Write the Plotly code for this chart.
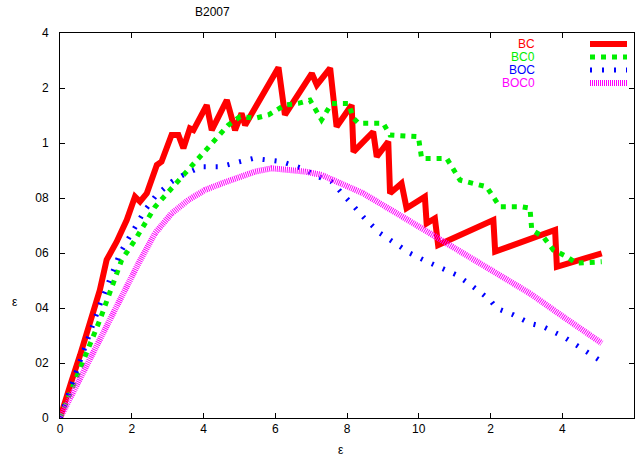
import plotly.graph_objects as go

# ---- data ----
red_x = [0, 1.4, 3.3, 5.6, 7.8, 9.8, 11.1, 13.0, 15.8, 18.6, 20.9, 22.3, 24.2, 27.0, 28.3, 31.1, 33.0,
         34.4, 36.2, 37.2, 40.9, 42.3, 46.5, 48.8, 50.6, 51.6, 60.9, 62.7, 70.2, 71.6, 75.3, 77.1,
         81.3, 81.8, 87.3, 88.3, 91.5, 92.0, 95.2, 96.6, 101.7, 102.2, 104.5, 105.4, 120.8, 121.3,
         138.0, 138.5, 151.0]
red_y = [0, 0.065, 0.138, 0.229, 0.32, 0.41, 0.465, 0.575, 0.641, 0.720, 0.805, 0.787, 0.817, 0.920,
         0.932, 1.029, 1.029, 0.981, 1.053, 1.047, 1.138, 1.047, 1.156, 1.047, 1.108, 1.065, 1.275,
         1.102, 1.253, 1.211, 1.272, 1.059, 1.138, 0.968, 1.041, 0.950, 1.005, 0.817, 0.853, 0.763,
         0.805, 0.708, 0.726, 0.629, 0.720, 0.605, 0.684, 0.550, 0.599]

green_x = [0, 5.6, 11.1, 17.2, 20.9, 26.5, 31.1, 36.7, 40.9, 46.9, 50.2, 54.4, 58.1, 62.7, 66.4, 69.7,
           72.9, 75.7, 80.4, 81.8, 83.2, 90.1, 92.0, 99.9, 100.8, 107.8, 111.5, 118.9, 122.6, 128.7,
           131.0, 131.5, 134.7, 137.5, 141.2, 144.0, 151.0]
green_y = [0, 0.175, 0.356, 0.575, 0.647, 0.768, 0.835, 0.914, 0.981, 1.065, 1.096, 1.090, 1.102,
           1.138, 1.144, 1.156, 1.084, 1.144, 1.144, 1.090, 1.072, 1.072, 1.029, 1.023, 0.944, 0.944,
           0.865, 0.841, 0.768, 0.768, 0.763, 0.684, 0.659, 0.611, 0.587, 0.563, 0.568]

blue_x = [0, 5.6, 11.1, 16.7, 20.0, 23.7, 26.5, 31.1, 34.4, 39.5, 44.6, 49.7, 53.9, 58.1, 61.8, 67.4,
          72.0, 75.7, 78.5, 81.3, 84.5, 89.2, 93.9, 97.6, 101.3, 105.9, 110.6, 115.2, 119.9, 121.7,
          126.4, 131.0, 134.7, 140.3, 144.9, 149.6, 151.0]
blue_y = [0, 0.211, 0.411, 0.599, 0.677, 0.756, 0.805, 0.859, 0.884, 0.914, 0.914, 0.932, 0.944,
          0.938, 0.932, 0.908, 0.877, 0.859, 0.817, 0.781, 0.732, 0.672, 0.629, 0.599, 0.575, 0.550,
          0.520, 0.477, 0.429, 0.399, 0.375, 0.344, 0.332, 0.296, 0.259, 0.217, 0.205]

magenta_x = [0, 5.6, 11.1, 16.7, 21.8, 26.5, 31.1, 35.8, 40.4, 45.1, 49.7, 54.4, 59.0, 63.6, 68.3,
             72.9, 77.6, 84.5, 93.9, 103.1, 112.4, 121.7, 131.0, 140.3, 151.0]
magenta_y = [0, 0.145, 0.284, 0.422, 0.560, 0.672, 0.744, 0.793, 0.829, 0.853, 0.877, 0.896, 0.908,
             0.904, 0.896, 0.884, 0.859, 0.817, 0.744, 0.672, 0.599, 0.526, 0.453, 0.368, 0.272]

series_names = ["BC", "BC0", "BOC", "BOC0"]
x_tickvals = [0, 20, 40, 60, 80, 100, 120, 140, 160]
x_ticktext = ["0", "2", "4", "6", "8", "10", "2", "4", "6"]
y_tickvals = [0, 0.2, 0.4, 0.6, 0.8, 1.0, 1.2, 1.4]
y_ticktext = ["0", "02", "04", "06", "08", "1", "2", "4"]
title_text = "B2007"
x_title = "ε"
y_title = "ε"

# ---- styles ----
styles = [
    dict(color="#ff0000", width=6, dash="solid"),
    dict(color="#00ee00", width=5, dash="5px,6px"),
    dict(color="#0000ff", width=5, dash="2px,10px"),
    dict(color="#ff00ff", width=6, dash="1px,1px"),
]

fig = go.Figure()
xs = [red_x, green_x, blue_x, magenta_x]
ys = [red_y, green_y, blue_y, magenta_y]
for name, x, y, st in zip(series_names, xs, ys, styles):
    fig.add_trace(go.Scatter(x=x, y=y, mode="lines", name=name, line=st, showlegend=False))

W, H = 637, 459
ml, mr, mt, mb = 60, 3, 33, 41
pw, ph = W - ml - mr, H - mt - mb

def px2paper(px, py):
    return (px - ml) / pw, (H - mb - py) / ph

font_fam = "Liberation Sans"

# manual gnuplot-style key: text right-justified, sample to the right
rows_y = [44, 57, 70, 83]
for name, st, ry in zip(series_names, styles, rows_y):
    tx, ty = px2paper(537, ry)
    fig.add_annotation(x=tx, y=ty, xref="paper", yref="paper", text=name, showarrow=False,
                       xanchor="right", yanchor="middle",
                       font=dict(color=st["color"], size=12, family=font_fam))
    x0, y0 = px2paper(590, ry)
    x1, _ = px2paper(627, ry)
    fig.add_shape(type="line", xref="paper", yref="paper", x0=x0, x1=x1, y0=y0, y1=y0,
                  line=dict(color=st["color"], width=st["width"], dash=st["dash"]))

def add_text(px, py, text):
    ax, ay = px2paper(px, py)
    fig.add_annotation(x=ax, y=ay, xref="paper", yref="paper", text=text, showarrow=False,
                       xanchor="center", yanchor="middle",
                       font=dict(size=12, color="black", family=font_fam))

add_text(212, 12, title_text)
add_text(341, 450, x_title)
add_text(15, 302, y_title)

axis_common = dict(showline=True, linecolor="black", linewidth=1, mirror="ticks",
                   ticks="inside", ticklen=5, tickcolor="black", showgrid=False, zeroline=False,
                   automargin=False,
                   tickfont=dict(size=12, color="black", family=font_fam))

fig.update_layout(
    width=W, height=H,
    margin=dict(l=ml, r=mr, t=mt, b=mb, autoexpand=False),
    paper_bgcolor="white", plot_bgcolor="white",
    xaxis=dict(range=[0, 160], tickvals=x_tickvals, ticktext=x_ticktext, **axis_common),
    yaxis=dict(range=[0, 1.4], tickvals=y_tickvals, ticktext=y_ticktext,
               ticklabelstandoff=8, **axis_common),
)

fig.write_html("out.html", config={"displayModeBar": False},
               post_script="document.body.style.margin='0px';document.body.style.overflow='hidden';")
